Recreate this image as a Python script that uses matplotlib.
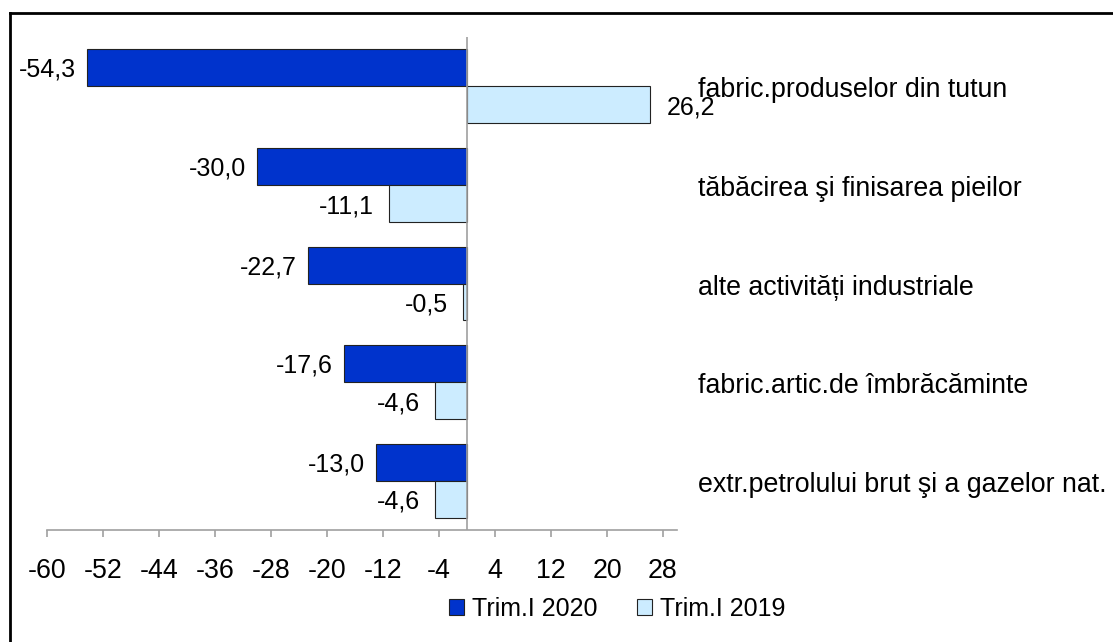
import matplotlib
matplotlib.use("Agg")
import matplotlib.pyplot as plt
import matplotlib.transforms as mtransforms
from matplotlib.patches import Patch
from matplotlib.lines import Line2D

plt.rcParams['font.family'] = ['Liberation Sans', 'DejaVu Sans']
plt.rcParams['axes.unicode_minus'] = False

categories = [
    "fabric.produselor din tutun",
    "tăbăcirea şi finisarea pieilor",
    "alte activități industriale",
    "fabric.artic.de îmbrăcăminte",
    "extr.petrolului brut şi a gazelor nat.",
]
series_names = ["Trim.I 2020", "Trim.I 2019"]
values_2020 = [-54.3, -30.0, -22.7, -17.6, -13.0]
values_2019 = [26.2, -11.1, -0.5, -4.6, -4.6]
xticks = [-60, -52, -44, -36, -28, -20, -12, -4, 4, 12, 20, 28]

c2020 = "#0033CC"
c2019 = "#CCECFF"

W, H = 1113, 642
fig = plt.figure(figsize=(W / 100, H / 100), dpi=100)
ax = fig.add_axes([47 / W, 1 - 530 / H, (677 - 47) / W, (530 - 37) / H])

fs = 18
fs_big = 19.3
bh = 0.375
ys = list(range(len(categories)))
ax.barh([y - bh / 2 for y in ys], values_2020, height=bh, color=c2020,
        edgecolor="#222222", linewidth=0.8, zorder=2)
ax.barh([y + bh / 2 for y in ys], values_2019, height=bh, color=c2019,
        edgecolor="#222222", linewidth=0.8, zorder=2)

ax.set_xlim(-60, 30)
ax.set_ylim(len(categories) - 0.5, -0.5)
ax.axvline(0, color="#a0a0a0", linewidth=1.2, zorder=3)

def fmt(v):
    return f"{v:.1f}".replace(".", ",")

for y, v in zip(ys, values_2020):
    off = -8 if v < 0 else 12
    ax.annotate(fmt(v), xy=(v, y - bh / 2), xytext=(off, -1.5), textcoords="offset points",
                ha="right" if v < 0 else "left", va="center", fontsize=fs)
for y, v in zip(ys, values_2019):
    off = -11 if v < 0 else 12
    ax.annotate(fmt(v), xy=(v, y + bh / 2), xytext=(off, -2), textcoords="offset points",
                ha="right" if v < 0 else "left", va="center", fontsize=fs)

trans = mtransforms.blended_transform_factory(fig.transFigure, ax.transData)
for y, name in zip(ys, categories):
    ax.annotate(name, xy=(698 / W, y), xycoords=trans, xytext=(0, -3),
                textcoords="offset points", ha="left", va="center", fontsize=fs_big)

ax.set_xticks(xticks)
ax.set_xticklabels([str(t) for t in xticks])
ax.set_yticks([])
for s in ["top", "right", "left"]:
    ax.spines[s].set_visible(False)
ax.spines["bottom"].set_color("#a0a0a0")
ax.spines["bottom"].set_linewidth(1.2)
ax.tick_params(axis="x", direction="out", length=5, width=1.2, color="#a0a0a0",
               labelsize=fs_big, pad=15)

handles = [Patch(facecolor=c2020, edgecolor="#222222", linewidth=0.8, label=series_names[0]),
           Patch(facecolor=c2019, edgecolor="#222222", linewidth=0.8, label=series_names[1])]
fig.legend(handles=handles, loc="center", bbox_to_anchor=(617 / W, 1 - 609 / H),
           ncol=2, frameon=False, fontsize=fs, handlelength=0.6, handleheight=0.6,
           handletextpad=0.3, columnspacing=1.6, borderpad=0, borderaxespad=0)

fig.add_artist(Line2D([10 / W, 1], [1 - 13 / H, 1 - 13 / H], transform=fig.transFigure,
                      color="black", linewidth=2))
fig.add_artist(Line2D([10 / W, 10 / W], [0, 1 - 13 / H], transform=fig.transFigure,
                      color="black", linewidth=2))

fig.savefig("out.png", dpi=100)
